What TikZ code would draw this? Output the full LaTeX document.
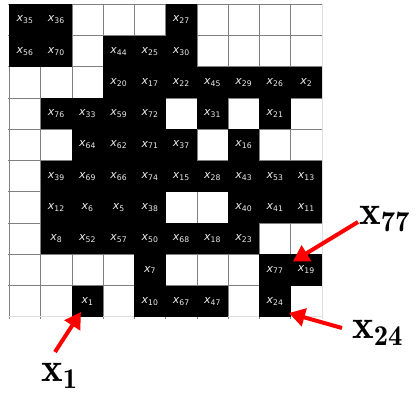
\documentclass[tikz,border=0pt]{standalone}
\usepackage{fix-cm}
\usepackage{fontspec}
\newfontfamily\cellfont{DejaVu Sans}
\usetikzlibrary{arrows.meta}
\newcommand{\xcell}[1]{\textit{x}\textsubscript{#1}}

\begin{document}
\begin{tikzpicture}[x=1pt,y=-1pt,
  gridline/.style={gray,line width=0.8pt},
  cell/.style={fill=black,minimum size=31.3pt,inner sep=0pt,text=white!92!black,font=\cellfont\fontsize{11}{13}\selectfont},
  tag/.style={inner sep=0pt,anchor=base west,font=\fontsize{41}{41}\selectfont},
  pointer/.style={red,line width=4pt,-{Triangle[length=16pt,width=18pt]}}]
\useasboundingbox (0,0) rectangle (416,393);
\begin{scope}[shift={(9.4,4.3)},x=31.25pt,y=-31.25pt]
\foreach \i in {0,...,9} {
  \draw[gridline] (\i,0) -- (\i,10.07);
  \draw[gridline] (-0.05,\i) -- (10,\i);
}
\draw[gridline,gray!25] (10,0) -- (10,10.07) (-0.05,10) -- (10,10);
\foreach \c/\r/\k in {1/1/35,2/1/36,6/1/27,
  1/2/56,2/2/70,4/2/44,5/2/25,6/2/30,
  4/3/20,5/3/17,6/3/22,7/3/45,8/3/29,9/3/26,10/3/2,
  2/4/76,3/4/33,4/4/59,5/4/72,7/4/31,9/4/21,
  3/5/64,4/5/62,5/5/71,6/5/37,8/5/16,
  2/6/39,3/6/69,4/6/66,5/6/74,6/6/15,7/6/28,8/6/43,9/6/53,10/6/13,
  2/7/12,3/7/6,4/7/5,5/7/38,8/7/40,9/7/41,10/7/11,
  2/8/8,3/8/52,4/8/57,5/8/50,6/8/68,7/8/18,8/8/23,
  5/9/7,9/9/77,10/9/19,
  3/10/1,5/10/10,6/10/67,7/10/47,9/10/24}
  \node[cell] (c\k) at (\c-0.5,\r-0.5) {\xcell{\k}};
\end{scope}
\node[tag] (l1) at (41,382) {$\mathbf{x_1}$};
\node[tag] (l24) at (352,339) {$\mathbf{x_{24}}$};
\node[tag] (l77) at (359,225) {$\mathbf{x_{77}}$};
\draw[pointer] ([shift={(14,-30)}]l1.base west) -- ([shift={(-6.6,-5)}]c1.south);
\draw[pointer] ([shift={(-10,-11)}]l24.base west) -- ([shift={(-2,-4)}]c24.south east);
\draw[pointer] ([shift={(-1,-3)}]l77.base west) -- ([shift={(2,7.5)}]c77.north east);
\end{tikzpicture}
\end{document}
